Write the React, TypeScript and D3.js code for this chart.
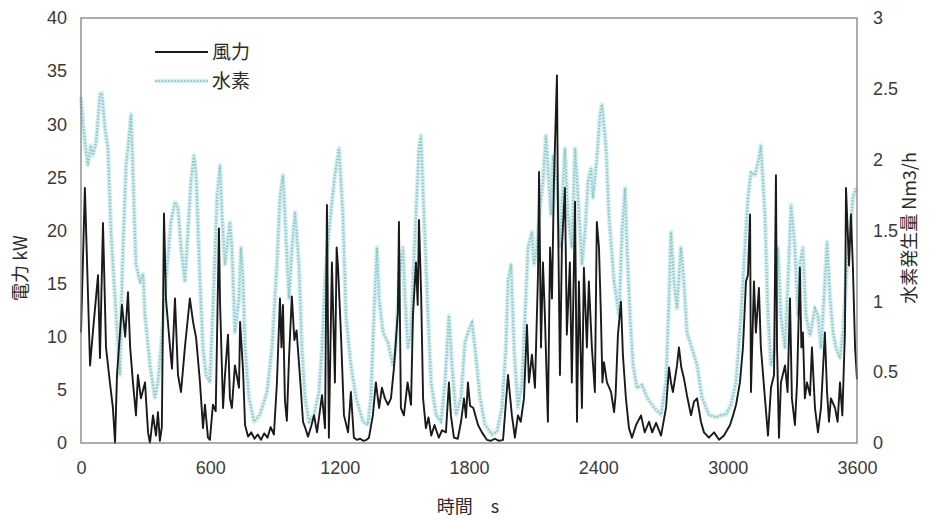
import { useEffect, useRef } from "react";
import * as d3 from "d3";

// 風力 (wind power, kW) — time s
const windTime = [
  0, 18, 42, 55, 79, 88, 102, 116, 134, 148, 158, 167, 190, 205, 218, 228, 241, 255, 264, 278,
  297, 311, 320, 334, 348, 357, 366, 375, 385, 394, 413, 422, 436, 450, 464, 482, 505, 520, 534, 552,
  566, 575, 589, 598, 612, 625, 640, 645, 659, 668, 682, 691, 700, 714, 733, 738, 752, 761, 775, 790,
  805, 820, 835, 850, 865, 880, 895, 909, 923, 930, 937, 946, 955, 965, 978, 990, 1000, 1018, 1030, 1039,
  1053, 1067, 1081, 1095, 1118, 1132, 1141, 1150, 1164, 1178, 1186, 1192, 1206, 1220, 1239, 1252, 1266, 1280, 1295, 1310,
  1325, 1336, 1354, 1368, 1383, 1396, 1410, 1424, 1438, 1452, 1470, 1475, 1484, 1498, 1515, 1531, 1540, 1554, 1562, 1568,
  1578, 1587, 1600, 1612, 1625, 1640, 1660, 1675, 1693, 1707, 1716, 1730, 1748, 1763, 1777, 1786, 1795, 1805, 1820, 1842,
  1860, 1883, 1900, 1920, 1940, 1958, 1981, 1999, 2013, 2027, 2040, 2055, 2069, 2078, 2092, 2106, 2120, 2125, 2134, 2143,
  2152, 2166, 2176, 2185, 2194, 2208, 2213, 2222, 2231, 2245, 2254, 2268, 2277, 2292, 2301, 2310, 2324, 2333, 2347, 2356,
  2370, 2384, 2393, 2403, 2412, 2419, 2426, 2440, 2459, 2473, 2480, 2491, 2505, 2514, 2528, 2542, 2556, 2575, 2598, 2615,
  2635, 2650, 2668, 2691, 2714, 2728, 2737, 2746, 2765, 2774, 2785, 2797, 2811, 2830, 2844, 2858, 2876, 2890, 2913, 2937,
  2960, 2983, 3011, 3025, 3039, 3057, 3071, 3085, 3094, 3104, 3108, 3122, 3131, 3145, 3154, 3173, 3187, 3201, 3215, 3224,
  3229, 3238, 3247, 3266, 3278, 3289, 3298, 3312, 3322, 3335, 3342, 3349, 3358, 3368, 3382, 3391, 3405, 3419, 3433, 3451,
  3461, 3470, 3479, 3498, 3510, 3521, 3532, 3544, 3549, 3563, 3572, 3581, 3591, 3600,
];
const windPower = [
  10.4, 24, 7.3, 10.4, 15.8, 8, 20.7, 9, 5.7, 3.3, 0, 6.4, 13, 10, 14.2, 9, 5.7, 2.6, 6.4, 4.2,
  5.7, 1, 0, 2.6, 0.7, 2.9, 0.2, 1.5, 21.6, 13.6, 9, 7, 13.6, 6.4, 4.8, 9, 13.6, 11.4, 9.9, 5.7,
  1.4, 3.6, 0.5, 0.3, 3.6, 3, 20.2, 13.3, 3.3, 6.4, 10.2, 4.2, 3.3, 7.3, 5.2, 11.4, 6.7, 1.7, 0.6, 1,
  0.4, 0.8, 0.3, 0.9, 0.5, 1.5, 0.8, 5.7, 13.6, 9, 13, 4, 2.1, 8, 13.8, 9.7, 10.6, 5.6, 2, 1.5,
  0.6, 1.5, 2.6, 1, 4.5, 1.4, 22.4, 0.5, 17, 5.7, 18.4, 16.7, 10.2, 2.6, 1, 4.8, 0.5, 0.3, 0.4, 0.2,
  0.3, 0.5, 2.6, 5.7, 3.3, 5.2, 4.2, 3.6, 4.2, 7.1, 12.3, 20.8, 3.3, 2.6, 5.7, 3.6, 12, 17, 13, 21,
  14, 4.2, 1.4, 2.4, 0.7, 1.7, 0.5, 1.2, 1, 5.7, 2.6, 0.5, 0.4, 2, 4.2, 2.4, 5.7, 3.5, 3.3, 1.7,
  1, 0.3, 0.2, 0.4, 0.2, 0.3, 6.4, 2.6, 0.5, 2.6, 2, 4.2, 11.1, 5.7, 8.3, 5.2, 15.8, 25.5, 9, 17,
  12, 2, 18.4, 13.6, 24.5, 34.6, 21.5, 6.4, 18.4, 24, 10.2, 17, 5.7, 22.7, 2, 15.2, 3.3, 16.5, 9, 15.2,
  9, 4.8, 20.8, 18.4, 12, 5.7, 7.6, 5.7, 4.8, 2.9, 4.5, 10.2, 13.3, 8.3, 4.2, 1.4, 0.5, 1.7, 2.6, 1,
  2, 1, 1.9, 0.7, 3.3, 7.1, 5.7, 4.8, 7.3, 9, 7.1, 6.1, 4.5, 2.6, 3.9, 4.2, 2, 1, 0.5, 1,
  0.3, 0.7, 1.7, 2.6, 3.6, 5.7, 9, 15.2, 15.8, 21.5, 4.8, 15.2, 10.4, 14.6, 9, 4.2, 0.7, 5.2, 6.4, 25.2,
  9, 0.5, 5.7, 7.3, 4.8, 13.6, 4.2, 1.7, 5.7, 16.5, 9, 10.4, 4.2, 5.7, 4.5, 9, 3.3, 1, 3.3, 10.4,
  4.8, 2, 4.2, 3.3, 2, 5.7, 2.6, 10.4, 24, 16.7, 21.5, 16.5, 9, 6,
];

// 水素 (hydrogen production, Nm3/h) — time s
const h2Time = [
  0, 10, 20, 32, 45, 55, 70, 88, 97, 111, 125, 139, 158, 172, 181, 186, 195, 209, 218, 232,
  240, 255, 274, 288, 297, 320, 343, 357, 371, 394, 417, 436, 450, 464, 482, 496, 510, 524, 534, 552,
  566, 580, 598, 617, 631, 645, 654, 668, 691, 700, 714, 733, 742, 752, 761, 779, 803, 830, 863, 886,
  909, 923, 937, 946, 965, 979, 993, 1011, 1025, 1039, 1058, 1081, 1104, 1118, 1132, 1150, 1164, 1178, 1197, 1215,
  1229, 1252, 1276, 1308, 1331, 1345, 1359, 1373, 1383, 1401, 1424, 1447, 1461, 1475, 1494, 1503, 1517, 1531, 1540, 1554,
  1568, 1577, 1591, 1610, 1624, 1647, 1670, 1689, 1707, 1721, 1740, 1763, 1781, 1800, 1814, 1828, 1851, 1874, 1907, 1930,
  1953, 1971, 1981, 1995, 2009, 2027, 2046, 2060, 2074, 2092, 2101, 2115, 2129, 2143, 2157, 2166, 2180, 2190, 2208, 2222,
  2231, 2245, 2259, 2277, 2292, 2306, 2324, 2338, 2352, 2366, 2375, 2393, 2408, 2417, 2436, 2449, 2473, 2496, 2510, 2524,
  2533, 2547, 2561, 2579, 2603, 2626, 2658, 2691, 2714, 2728, 2737, 2751, 2765, 2783, 2797, 2811, 2834, 2858, 2881, 2913,
  2946, 2974, 2992, 3015, 3039, 3062, 3080, 3094, 3108, 3127, 3145, 3154, 3173, 3187, 3201, 3220, 3233, 3247, 3266, 3280,
  3294, 3312, 3326, 3335, 3349, 3363, 3382, 3405, 3419, 3433, 3451, 3461, 3475, 3489, 3503, 3521, 3535, 3549, 3568, 3581,
  3595,
];
const h2Rate = [
  2.44, 2.25, 2.1, 1.96, 2.1, 2.03, 2.12, 2.46, 2.47, 2.22, 2.08, 1.49, 1.02, 0.67, 0.48, 0.9, 1.38, 1.96, 2.08, 2.32,
  1.96, 1.26, 1.14, 1.19, 0.9, 0.55, 0.32, 0.43, 0.67, 1.14, 1.56, 1.7, 1.66, 1.38, 1.14, 1.49, 1.84, 2.03, 1.89, 1.14,
  0.67, 0.48, 0.43, 1.14, 1.73, 1.96, 1.61, 1.26, 1.56, 1.38, 0.78, 1.02, 1.38, 1.14, 0.67, 0.32, 0.15, 0.2, 0.36, 0.67,
  1.26, 1.73, 1.89, 1.61, 1.02, 1.38, 1.63, 1.26, 0.67, 0.32, 0.15, 0.2, 0.36, 0.67, 1.14, 1.49, 1.7, 1.89, 2.08, 1.61,
  0.9, 0.55, 0.32, 0.15, 0.13, 0.32, 0.9, 1.38, 1.02, 0.78, 0.71, 0.55, 0.67, 1.14, 1.38, 1.02, 0.67, 0.78, 1.14, 1.61,
  2.08, 2.17, 1.61, 0.9, 0.43, 0.2, 0.15, 0.43, 0.9, 0.55, 0.2, 0.32, 0.71, 0.8, 0.85, 0.67, 0.32, 0.13, 0.06, 0.08,
  0.25, 0.67, 1.14, 1.26, 0.67, 0.25, 0.43, 0.9, 1.38, 1.49, 1.26, 1.38, 1.66, 1.84, 2.17, 1.96, 1.61, 2.03, 1.84, 1.38,
  1.66, 2.08, 1.61, 1.38, 2.08, 1.73, 1.26, 1.49, 1.84, 1.94, 1.73, 2.0, 2.32, 2.39, 2.08, 1.61, 1.14, 0.9, 1.49, 1.8,
  1.38, 0.9, 0.55, 0.39, 0.41, 0.32, 0.25, 0.2, 0.43, 1.02, 1.49, 1.14, 0.95, 1.38, 1.14, 0.78, 0.67, 0.55, 0.32, 0.2,
  0.18, 0.2, 0.2, 0.27, 0.43, 0.9, 1.38, 1.73, 1.91, 1.89, 2.01, 2.1, 1.61, 0.9, 0.55, 0.67, 1.38, 0.9, 0.67, 1.14,
  1.68, 1.38, 0.9, 1.26, 1.38, 0.9, 0.76, 0.95, 0.9, 0.67, 1.14, 1.42, 1.02, 0.78, 0.67, 0.6, 0.78, 1.14, 1.49, 1.73,
  1.8,
];

const xTicks = [0, 600, 1200, 1800, 2400, 3000, 3600];
const leftTicks = [0, 5, 10, 15, 20, 25, 30, 35, 40];
const rightTicks = [0, 0.5, 1, 1.5, 2, 2.5, 3];

export default function App() {
  const ref = useRef<SVGSVGElement>(null);

  useEffect(() => {
    const el = ref.current;
    if (!el) return;
    const W = 932;
    const H = 520;
    const M = { top: 18, right: 75, bottom: 77, left: 81 };
    const font = "'Liberation Sans', Arial, sans-serif";
    const cjk = "'Noto Sans CJK JP', 'Noto Sans', sans-serif";

    const svg = d3.select(el);
    svg.selectAll("*").remove();
    svg.attr("viewBox", `0 0 ${W} ${H}`);

    const x = d3.scaleLinear().domain([0, 3600]).range([M.left, W - M.right]);
    const yL = d3.scaleLinear().domain([0, 40]).range([H - M.bottom, M.top]);
    const yR = d3.scaleLinear().domain([0, 3]).range([H - M.bottom, M.top]);

    const wind = windTime.map((t, i) => [t, windPower[i]] as [number, number]);
    const h2 = h2Time.map((t, i) => [t, h2Rate[i]] as [number, number]);

    const lineL = d3.line<[number, number]>().x((d) => x(d[0])).y((d) => yL(d[1]));
    const lineR = d3.line<[number, number]>().x((d) => x(d[0])).y((d) => yR(d[1]));

    const h2Halo = "#d6eef0";
    const h2Dots = "#8fc7cb";
    const windCol = "#1a1a1a";

    // Hydrogen: pale halo + dotted teal
    svg.append("path").datum(h2).attr("d", lineR).attr("fill", "none")
      .attr("stroke", h2Halo).attr("stroke-width", 4.5).attr("stroke-linejoin", "round");
    svg.append("path").datum(h2).attr("d", lineR).attr("fill", "none")
      .attr("stroke", h2Dots).attr("stroke-width", 2.2).attr("stroke-dasharray", "1.6 1.6");

    // Wind
    svg.append("path").datum(wind).attr("d", lineL).attr("fill", "none")
      .attr("stroke", windCol).attr("stroke-width", 1.9).attr("stroke-linejoin", "round");

    // Frame
    svg.append("rect")
      .attr("x", M.left).attr("y", M.top)
      .attr("width", W - M.left - M.right).attr("height", H - M.top - M.bottom)
      .attr("fill", "none").attr("stroke", "#808080").attr("stroke-width", 1.3);

    // Left axis
    svg.append("g")
      .attr("transform", `translate(${M.left},0)`)
      .call(d3.axisLeft(yL).tickValues(leftTicks).tickSize(0).tickPadding(14))
      .call((g) => g.select(".domain").remove())
      .call((g) => g.selectAll(".tick text").attr("fill", "#3a3a3a").style("font-size", "18px").style("font-family", font));

    // Right axis
    svg.append("g")
      .attr("transform", `translate(${W - M.right},0)`)
      .call(d3.axisRight(yR).tickValues(rightTicks).tickSize(0).tickPadding(16).tickFormat((v) => String(v)))
      .call((g) => g.select(".domain").remove())
      .call((g) => g.selectAll(".tick text").attr("fill", "#3a3a3a").style("font-size", "18px").style("font-family", font));

    // Bottom axis
    svg.append("g")
      .attr("transform", `translate(0,${H - M.bottom})`)
      .call(d3.axisBottom(x).tickValues(xTicks).tickSize(0).tickPadding(18).tickFormat((v) => String(v)))
      .call((g) => g.select(".domain").remove())
      .call((g) => g.selectAll(".tick text").attr("fill", "#3a3a3a").style("font-size", "18px").style("font-family", font));

    // Axis titles
    svg.append("text")
      .attr("transform", `translate(27,268) rotate(-90)`)
      .attr("text-anchor", "middle").attr("fill", "#2a2a2a")
      .style("font-size", "18px").style("font-family", cjk).text("電力 kW");
    svg.append("text")
      .attr("transform", `translate(916,228) rotate(-90)`)
      .attr("text-anchor", "middle").attr("fill", "#2a2a2a")
      .style("font-size", "18px").style("font-family", cjk).text("水素発生量  Nm3/h");
    svg.append("text")
      .attr("x", 468).attr("y", 513)
      .attr("text-anchor", "middle").attr("fill", "#2a2a2a")
      .style("font-size", "18px").style("font-family", cjk).text("時間　s");

    // Legend
    const leg = svg.append("g");
    leg.append("line").attr("x1", 155).attr("x2", 208).attr("y1", 52).attr("y2", 52)
      .attr("stroke", windCol).attr("stroke-width", 1.8);
    leg.append("text").attr("x", 212).attr("y", 59).attr("fill", "#2a2a2a")
      .style("font-size", "19px").style("font-family", cjk).text("風力");
    leg.append("line").attr("x1", 155).attr("x2", 208).attr("y1", 81).attr("y2", 81)
      .attr("stroke", h2Halo).attr("stroke-width", 4.5);
    leg.append("line").attr("x1", 155).attr("x2", 208).attr("y1", 81).attr("y2", 81)
      .attr("stroke", h2Dots).attr("stroke-width", 2.2).attr("stroke-dasharray", "1.6 1.6");
    leg.append("text").attr("x", 212).attr("y", 88).attr("fill", "#2a2a2a")
      .style("font-size", "19px").style("font-family", cjk).text("水素");
  }, []);

  return (
    <svg
      ref={ref}
      width={932}
      height={520}
      style={{ position: "absolute", left: 0, top: 0, background: "#fff" }}
    />
  );
}
